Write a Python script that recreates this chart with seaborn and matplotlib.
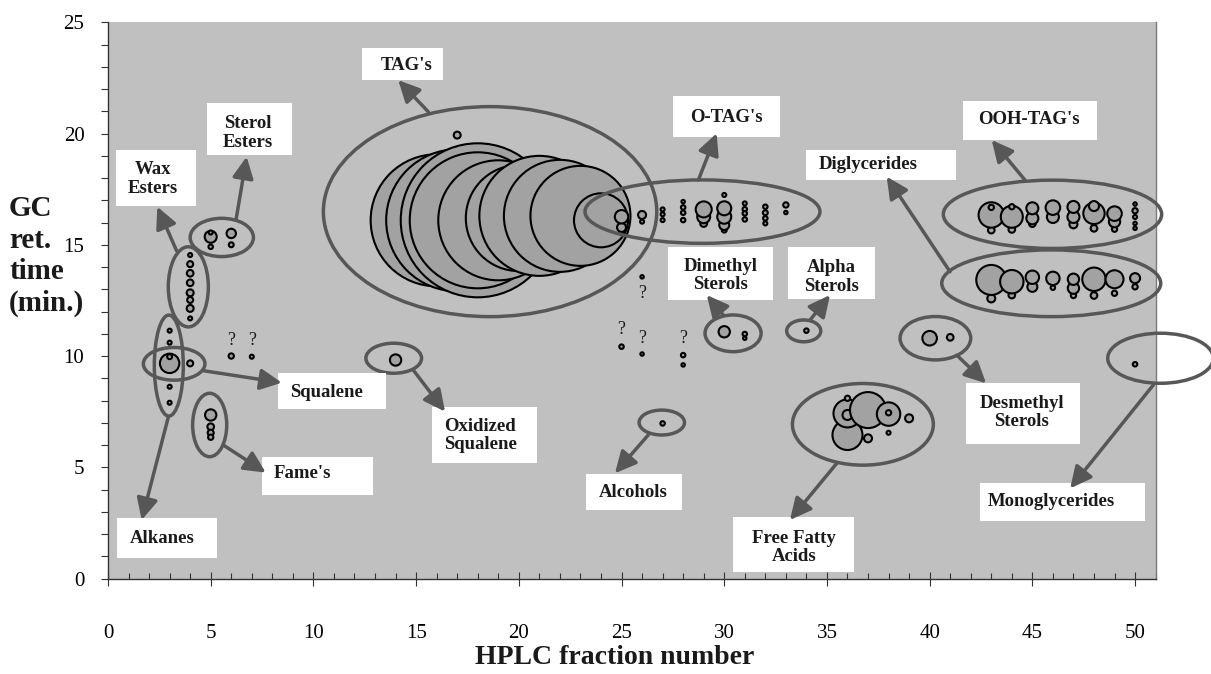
import matplotlib
matplotlib.use("Agg")
import matplotlib.pyplot as plt
from matplotlib.patches import Ellipse, Rectangle
from matplotlib.ticker import MultipleLocator
import pandas as pd
import seaborn as sns

# Each peak: (HPLC fraction, GC retention time in min, relative peak area)
alkanes = [(3, 11.14, 4), (3, 10.60, 4), (3, 9.67, 94), (3, 9.97, 6), (3, 8.62, 4), (3, 7.90, 4)]
squalene = [(4, 9.67, 9)]
wax_esters = [(4, 14.54, 4), (4, 14.13, 9), (4, 13.72, 11), (4, 13.29, 11),
              (4, 12.84, 12), (4, 12.52, 9), (4, 12.14, 12), (4, 11.69, 4)]
sterol_esters = [(5, 14.91, 5), (5, 15.36, 36), (5, 15.55, 4), (6, 15.00, 6), (6, 15.51, 22)]
fames = [(5, 7.35, 32), (5, 6.82, 11), (5, 6.55, 9), (5, 6.35, 7)]
unidentified = [(6, 10.00, 7), (7, 9.97, 4), (25, 10.42, 5), (26, 10.09, 3),
                (26, 13.56, 3), (28, 10.04, 5), (28, 9.60, 3)]
oxidized_squalene = [(14, 9.82, 32)]
tags = [(16, 16.1, 4356), (17, 16.1, 5041), (18, 16.1, 5929), (18, 16.1, 4624),
        (19, 16.1, 3600), (20, 16.2, 2809), (21, 16.3, 3600), (22, 16.3, 3136),
        (23, 16.3, 2500), (24, 16.1, 729), (17, 19.93, 12)]
o_tags = [(25, 15.59, 6), (25, 15.78, 20), (25, 16.26, 45), (26, 16.04, 4), (26, 16.34, 16),
          (27, 16.59, 4), (27, 16.37, 4), (27, 16.11, 4),
          (28, 16.94, 3), (28, 16.68, 5), (28, 16.44, 5), (28, 16.11, 5),
          (29, 15.96, 12), (29, 16.26, 42), (29, 16.59, 64),
          (30, 15.66, 6), (30, 15.89, 25), (30, 16.26, 49), (30, 16.64, 49), (30, 17.24, 4),
          (31, 16.86, 4), (31, 16.60, 5), (31, 16.41, 5), (31, 16.14, 5),
          (32, 16.71, 5), (32, 16.44, 6), (32, 16.19, 5), (32, 15.96, 4),
          (33, 16.79, 7), (33, 16.45, 3)]
dimethyl_sterols = [(30, 11.09, 32), (31, 10.80, 3), (31, 10.99, 5)]
alpha_sterols = [(34, 11.14, 5)]
alcohols = [(27, 6.97, 5)]
free_fatty_acids = [(36, 6.45, 225), (36, 7.42, 196), (36, 7.35, 25), (36, 8.10, 7),
                    (37, 7.57, 324), (37, 6.30, 16), (38, 7.39, 137), (38, 7.45, 7),
                    (38, 6.55, 4), (39, 7.20, 16)]
desmethyl_sterols = [(40, 10.80, 53), (41, 10.84, 11)]
monoglycerides = [(50, 9.63, 5)]
ooh_tags = [(43, 15.66, 11), (43, 16.34, 161), (43, 16.68, 7),
            (44, 15.69, 11), (44, 16.26, 121), (44, 16.71, 7),
            (45, 15.95, 11), (45, 16.19, 36), (45, 16.64, 36),
            (46, 16.25, 36), (46, 16.67, 53),
            (47, 15.92, 16), (47, 16.25, 36), (47, 16.70, 36),
            (48, 15.74, 11), (48, 16.41, 114), (48, 16.74, 25),
            (49, 15.70, 7), (49, 16.04, 32), (49, 16.40, 53),
            (50, 15.74, 3), (50, 15.96, 3), (50, 16.25, 4), (50, 16.53, 7), (50, 16.83, 3)]
diglycerides = [(43, 12.59, 16), (43, 13.42, 225), (44, 12.74, 11), (44, 13.34, 137),
                (45, 13.11, 25), (45, 13.54, 45), (46, 13.07, 5), (46, 13.49, 45),
                (47, 12.72, 7), (47, 13.05, 32), (47, 13.45, 32),
                (48, 12.72, 11), (48, 13.45, 137), (49, 12.82, 7), (49, 13.45, 81),
                (50, 13.11, 7), (50, 13.50, 25)]

x_ticks = [0, 5, 10, 15, 20, 25, 30, 35, 40, 45, 50]
y_ticks = [0, 5, 10, 15, 20, 25]

peaks = pd.DataFrame(
    alkanes + squalene + wax_esters + sterol_esters + fames + unidentified
    + oxidized_squalene + tags + o_tags + dimethyl_sterols + alpha_sterols
    + alcohols + free_fatty_acids + desmethyl_sterols + monoglycerides
    + ooh_tags + diglycerides,
    columns=["fraction", "ret_time", "area"],
)

# Compound classes: outline (cx, cy, w, h), label box (x0, x1, y0, y1),
# label position, arrow start -> arrow tip
groups = [
    ("Alkanes", (2.96, 9.57, 1.41, 4.54), (0.45, 5.32, 0.91, 2.71), (2.65, 1.81),
     (2.94, 7.27), (1.64, 2.63)),
    ("Squalene", (3.22, 9.65, 3.00, 1.47), (8.29, 13.53, 7.60, 9.25), (10.65, 8.35),
     (4.64, 9.34), (8.46, 8.80)),
    ("Wax\nEsters", (3.91, 13.11, 1.95, 3.60), (0.39, 4.28, 16.74, 19.26), (2.19, 17.95),
     (3.34, 14.73), (2.40, 16.71)),
    ("Sterol\nEsters", (5.54, 15.33, 3.08, 1.72), (4.83, 8.94, 19.03, 21.36), (6.83, 20.02),
     (6.23, 16.11), (6.75, 18.96)),
    ("Fame's", (4.95, 6.90, 1.66, 2.85), (7.48, 12.92, 3.75, 5.47), (9.47, 4.70),
     (5.61, 6.00), (7.68, 4.76)),
    ("Oxidized\nSqualene", (13.91, 9.90, 2.71, 1.35), (15.79, 20.87, 5.20, 7.72), (18.11, 6.43),
     (14.86, 9.37), (16.41, 7.50)),
    ("TAG's", (18.60, 16.49, 16.23, 9.44), (12.37, 16.31, 22.40, 23.84), (14.52, 23.08),
     (15.59, 20.98), (14.13, 22.40)),
    ("O-TAG's", (28.94, 16.49, 11.44, 2.85), (27.51, 32.72, 19.84, 21.69), (30.12, 20.72),
     (28.74, 17.91), (29.63, 20.01)),
    ("Dimethyl\nSterols", (30.43, 11.02, 2.73, 1.65), (27.28, 32.39, 12.52, 14.91), (29.84, 13.62),
     (29.96, 11.84), (29.15, 12.74)),
    ("Alpha\nSterols", (33.87, 11.13, 1.66, 0.98), (33.09, 37.34, 12.55, 14.91), (35.23, 13.55),
     (34.18, 11.62), (35.15, 12.74)),
    ("Alcohols", (26.96, 7.01, 2.21, 1.12), (23.26, 27.96, 3.08, 4.70), (25.57, 3.88),
     (26.30, 6.45), (24.68, 4.73)),
    ("Free Fatty\nAcids", (36.75, 6.93, 6.86, 3.67), (30.41, 36.32, 0.29, 2.78), (33.40, 1.38),
     (35.48, 5.18), (33.20, 2.63)),
    ("Desmethyl\nSterols", (40.28, 10.80, 3.44, 1.95), (41.76, 47.32, 6.04, 8.80), (44.48, 7.45),
     (41.32, 10.04), (42.75, 8.77)),
    ("Monoglycerides", (51.24, 9.90, 5.14, 2.25), (42.45, 50.49, 2.58, 4.31), (45.93, 3.47),
     (50.89, 8.70), (46.84, 4.05)),
    ("OOH-TAG's", (45.98, 16.37, 10.63, 3.07), (41.61, 48.16, 19.71, 21.47), (44.81, 20.63),
     (44.64, 17.91), (43.02, 19.71)),
    ("Diglycerides", (45.92, 13.27, 10.66, 3.00), (33.98, 41.29, 17.91, 19.26), (37.03, 18.60),
     (40.99, 13.79), (37.91, 18.06)),
]

# Question marks over unassigned peaks
question_marks = [(6, 10.72), (7, 10.72), (25, 11.17), (26, 12.82), (26, 10.80), (28, 10.80)]

plt.rcParams["font.family"] = ["Liberation Serif", "DejaVu Serif"]

BG = "#c0c0c0"
OUTLINE = "#575757"

fig = plt.figure(figsize=(12.11, 6.74), dpi=100)
ax = fig.add_axes([108 / 1211, 95.5 / 674, 1047.6 / 1211, 556.2 / 674])
ax.set_facecolor(BG)

# area (px^2) -> marker area (pt^2) at 100 dpi
sns.scatterplot(data=peaks, x="fraction", y="ret_time", size="area",
                sizes=(0, 20736), size_norm=(0, 10000), legend=False,
                color="#a2a2a2", edgecolor="black", linewidth=1.5, ax=ax, zorder=3)

for name, (cx, cy, w, h), (bx0, bx1, by0, by1), (tx, ty), start, tip in groups:
    ax.add_patch(Ellipse((cx, cy), w, h, facecolor="none", edgecolor=OUTLINE,
                         linewidth=2.5, zorder=4, clip_on=False))
    ax.add_patch(Rectangle((bx0, by0), bx1 - bx0, by1 - by0, facecolor="white",
                           edgecolor="none", zorder=5, clip_on=False))
    ax.text(tx, ty, name, ha="center", va="center", multialignment="center",
            fontsize=13.5, fontweight="bold", color="#1a1a1a", zorder=6,
            linespacing=1.1)
    ax.annotate("", xy=tip, xytext=start,
                arrowprops=dict(arrowstyle="-|>,head_length=0.65,head_width=0.32",
                                mutation_scale=20, color=OUTLINE, lw=2.5,
                                shrinkA=0, shrinkB=0),
                zorder=7, annotation_clip=False)

for qx, qy in question_marks:
    ax.text(qx, qy, "?", ha="center", va="center", fontsize=13, color="#1a1a1a", zorder=6)

ax.set_xlim(0, 51)
ax.set_ylim(0, 25)
ax.set_xticks(x_ticks)
ax.set_yticks(y_ticks)
ax.xaxis.set_minor_locator(MultipleLocator(1))
ax.yaxis.set_minor_locator(MultipleLocator(1))
ax.set_xlabel("")
ax.set_ylabel("")

ax.tick_params(axis="x", which="major", direction="inout", length=10, width=0.8,
               color="#333333", labelsize=15, pad=28)
ax.tick_params(axis="x", which="minor", direction="in", length=4, width=0.8, color="#333333")
ax.tick_params(axis="y", which="major", direction="out", length=5, width=0.8,
               color="#333333", labelsize=15, pad=12)
ax.tick_params(axis="y", which="minor", direction="out", length=5, width=0.8, color="#333333")

for side in ("left", "bottom"):
    ax.spines[side].set_color("#333333")
    ax.spines[side].set_linewidth(1.0)
ax.spines["top"].set_visible(False)
ax.spines["right"].set_color("#7a7a7a")
ax.spines["right"].set_linewidth(1.0)

fig.text(615 / 1211, 1 - 657 / 674, "HPLC fraction number", ha="center", va="center",
         fontsize=20, fontweight="bold", color="#1a1a1a")

# Stacked y-axis title, one line at a time
for line, ypx in zip(["GC", "ret.", "time", "(min.)"], [209, 240, 272, 303]):
    fig.text(9 / 1211, 1 - ypx / 674, line, ha="left", va="center",
             fontsize=21, fontweight="bold", color="#1a1a1a")

fig.savefig("out.png", dpi=100, facecolor="white")
